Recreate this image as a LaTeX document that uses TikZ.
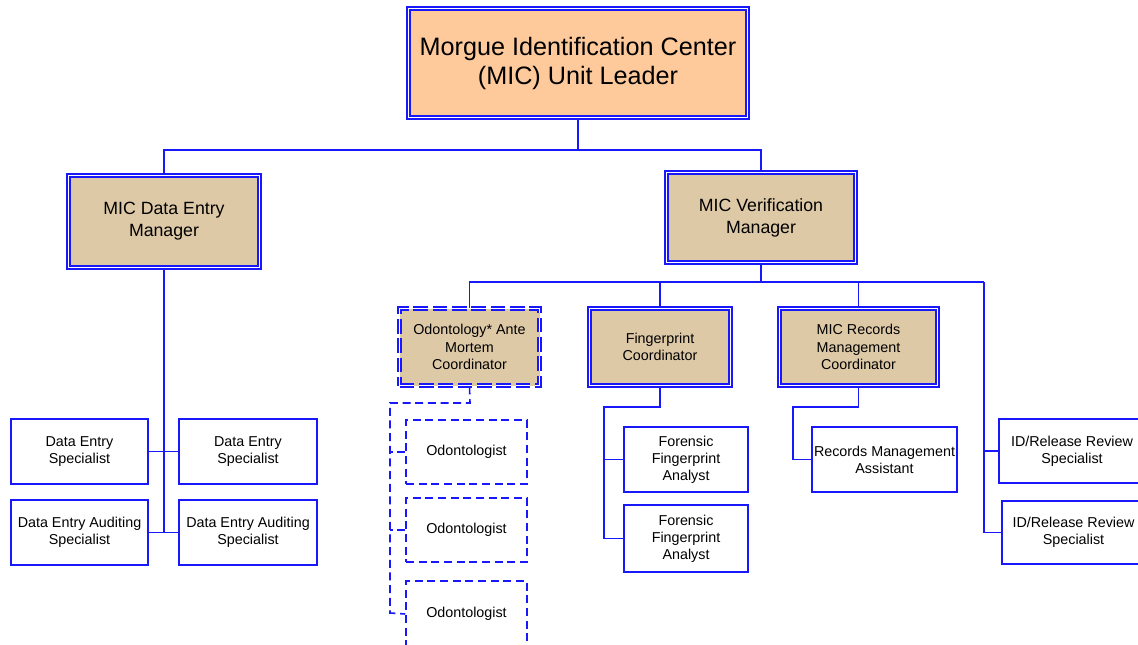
\documentclass[tikz,border=0pt]{standalone}
\usepackage{fontspec}
\setmainfont{Liberation Sans}
\definecolor{linec}{RGB}{24,24,250}
\definecolor{peach}{RGB}{254,202,156}
\definecolor{tan}{RGB}{222,201,167}
\tikzset{
  bx/.style 2 args={minimum width=#1*0.75pt, minimum height=#2*0.75pt},
  lead/.style={draw=linec, fill=peach, line width=1.4pt, double=white, double distance=0.8pt,
    inner sep=0pt, align=center, font=\fontsize{18.9}{21.75}\selectfont},
  mgr/.style={draw=linec, fill=tan, line width=1.4pt, double=white, double distance=0.8pt,
    inner sep=0pt, align=center, font=\fontsize{13.3}{16.5}\selectfont},
  coord/.style={draw=linec, fill=tan, line width=1.4pt, double=white, double distance=0.8pt,
    inner sep=0pt, align=center, font=\fontsize{10.75}{12.9}\selectfont},
  coorddash/.style={coord, dash pattern=on 11pt off 3.5pt},
  staff/.style={draw=linec, line width=1.2pt, fill=white, inner sep=0pt, align=center,
    font=\fontsize{10.75}{12.9}\selectfont},
  staffdash/.style={staff, dash pattern=on 6pt off 3.5pt},
  link/.style={draw=linec, line width=1.6pt},
  sublink/.style={draw=linec, line width=1.4pt},
  dashlink/.style={sublink, line width=1.2pt, dash pattern=on 6pt off 3.5pt},
}
\begin{document}
\begin{tikzpicture}[x=0.75pt, y=-0.75pt]
\useasboundingbox (0,0) rectangle (1138,645);

% unit leader and the two managers
\node[lead, bx={339}{109}] (mic) at (578,63) {Morgue Identification Center\\(MIC) Unit Leader};
\node[mgr, bx={191}{92}] (dem) at (164,221.5) {MIC Data Entry\\Manager};
\node[mgr, bx={189}{90}] (vm) at (761,217.5) {MIC Verification\\Manager};

% coordinators under the verification manager
\node[coorddash, bx={140}{77}] (odo) at (469.5,347) {Odontology* Ante\\Mortem\\Coordinator};
\node[coord, bx={141}{77}] (fpc) at (660,347) {Fingerprint\\Coordinator};
\node[coord, bx={158}{77}] (rmc) at (858.5,347) {MIC Records\\Management\\Coordinator};

% data entry staff
\node[staff, bx={137}{65}] (des1) at (79.5,451.5) {Data Entry\\Specialist};
\node[staff, bx={138}{65}] (des2) at (248,451.5) {Data Entry\\Specialist};
\node[staff, bx={137}{65}] (dea1) at (79.5,532.5) {Data Entry Auditing\\Specialist};
\node[staff, bx={138}{65}] (dea2) at (248,532.5) {Data Entry Auditing\\Specialist};

% odontologists
\node[staffdash, bx={121}{64}] (od1) at (466.5,452) {Odontologist};
\node[staffdash, bx={121}{64}] (od2) at (466.5,530) {Odontologist};
\node[staffdash, bx={121}{66}] (od3) at (466.5,614) {Odontologist};

% fingerprint analysts
\node[staff, bx={124}{65}] (ffa1) at (686,459.5) {Forensic\\Fingerprint\\Analyst};
\node[staff, bx={124}{67}] (ffa2) at (686,538.5) {Forensic\\Fingerprint\\Analyst};

% records management assistant
\node[staff, bx={145}{65}] (rma) at (884.5,459.5) {Records Management\\Assistant};

% release review specialists
\node[staff, bx={146}{64}] (idr1) at (1072,451) {ID/Release Review\\Specialist};
\node[staff, bx={143}{63}] (idr2) at (1073.5,532.5) {ID/Release Review\\Specialist};

% bus points
\coordinate (topbus) at (578,150);
\coordinate (vbus) at (761,282);
\coordinate (dbus) at (164,533);
\coordinate (rbus) at (984,282);
\coordinate (odoj) at (470,403);
\coordinate (fpcj) at (660,407);
\coordinate (rmcj) at (858.5,407);

% top level connectors
\draw[link] (mic.south) -- (topbus);
\draw[link] (topbus) -| (dem.north);
\draw[link] (topbus) -| (vm.north);

% data entry branch
\draw[sublink] (dem.south) -- (dbus);
\draw[sublink] (des1.east) -- (des2.west);
\draw[sublink] (dea1.east) -- (dea2.west);

% verification branch
\draw[sublink] (vm.south) -- (vbus);
\draw[sublink] (odo.north) |- (rbus);
\draw[sublink] (fpc.north) -- (fpc.north |- vbus);
\draw[sublink] (rmc.north) -- (rmc.north |- vbus);
\draw[sublink] (rbus) |- (idr2.west);
\draw[sublink] (idr1.west) -- (idr1.west -| rbus);

% odontology branch
\draw[dashlink] (odo.south) -- (odoj) -| (390,613) -- (od3.west);
\draw[dashlink] (od1.west) -- (od1.west -| 390,0);
\draw[dashlink] (od2.west) -- (od2.west -| 390,0);

% fingerprint branch
\draw[sublink] (fpc.south) -- (fpcj) -| (604,538.5) -- (ffa2.west);
\draw[sublink] (ffa1.west) -- (ffa1.west -| 604,0);

% records branch
\draw[sublink] (rmc.south) -- (rmcj) -| (793,459.5) -- (rma.west);
\end{tikzpicture}
\end{document}
